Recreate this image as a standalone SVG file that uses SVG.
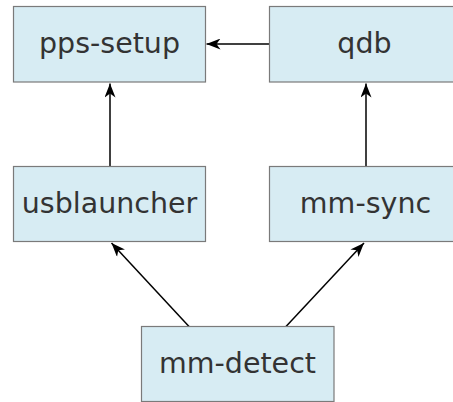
<svg xmlns="http://www.w3.org/2000/svg" width="453" height="402" viewBox="0 0 453 402">
<style>
.box{fill:#d7ecf3;stroke:#7a7a7a;stroke-width:1.2}
.lbl{font-family:"DejaVu Sans",Verdana,sans-serif;font-size:28.5px;fill:#333;text-anchor:middle}
.edge{stroke:#000;stroke-width:1.5;fill:none;marker-end:url(#ah)}
</style>
<defs>
<marker id="ah" markerUnits="userSpaceOnUse" markerWidth="14" markerHeight="11" refX="14" refY="5.5" orient="auto" viewBox="0 0 14 11">
<path d="M0,0 L14,5.5 L0,11 L4,5.5 z" fill="#000"/>
</marker>
</defs>
<g id="connectors">
<line class="edge" x1="269.5" y1="44" x2="206.5" y2="44"/>
<line class="edge" x1="110" y1="166" x2="110" y2="83.5"/>
<line class="edge" x1="366" y1="166" x2="366" y2="83.5"/>
<line class="edge" x1="189" y1="326.5" x2="111.5" y2="243"/>
<line class="edge" x1="286" y1="326.5" x2="364" y2="243"/>
</g>
<g id="pps-setup">
<rect class="box" x="13.5" y="6.5" width="192" height="75.5"/>
<text class="lbl" x="109.5" y="52.5">pps-setup</text>
</g>
<g id="qdb">
<rect class="box" x="269.5" y="6.5" width="192" height="75.5"/>
<text class="lbl" x="364.5" y="52.5">qdb</text>
</g>
<g id="usblauncher">
<rect class="box" x="13.5" y="166.5" width="192" height="75"/>
<text class="lbl" x="109.5" y="213">usblauncher</text>
</g>
<g id="mm-sync">
<rect class="box" x="269.5" y="166.5" width="192" height="75"/>
<text class="lbl" x="365.5" y="213">mm-sync</text>
</g>
<g id="mm-detect">
<rect class="box" x="141.5" y="326.5" width="192.5" height="75"/>
<text class="lbl" x="237.5" y="373">mm-detect</text>
</g>
</svg>
